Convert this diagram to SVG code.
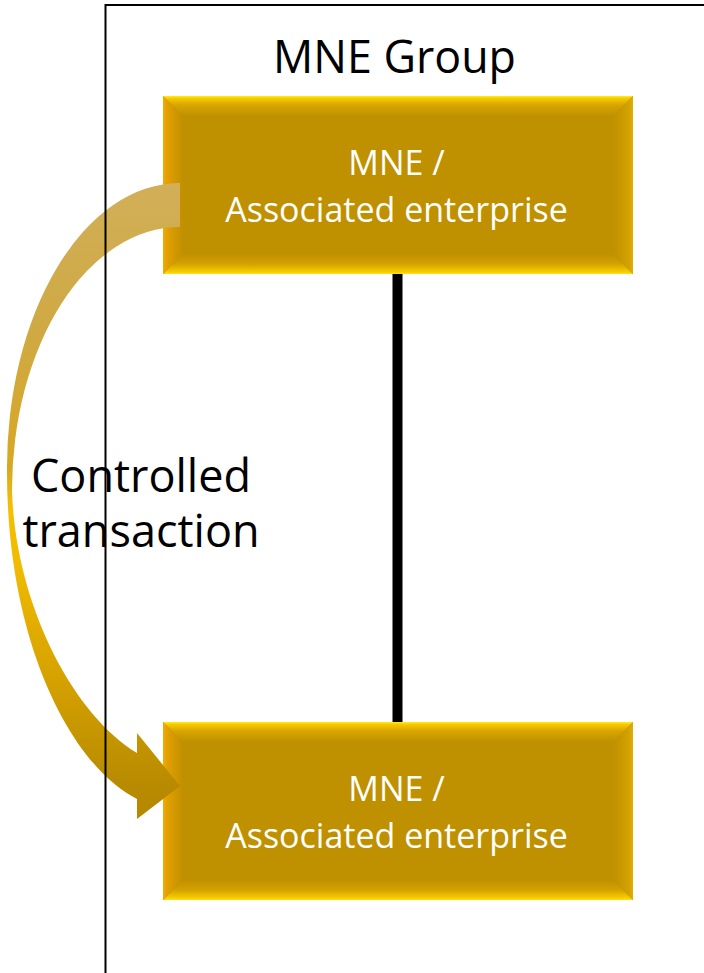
<svg xmlns="http://www.w3.org/2000/svg" width="704" height="973" viewBox="0 0 704 973">
  <defs>
    <style>
      .title { font-family: "Open Sans", "Noto Sans", "Liberation Sans", sans-serif; font-size: 46px; fill: #000; }
      .label { font-family: "Open Sans", "Noto Sans", "Liberation Sans", sans-serif; font-size: 45px; fill: #000; }
      .box-text { font-family: "Open Sans", "Noto Sans", "Liberation Sans", sans-serif; font-size: 34px; fill: #fff; text-anchor: middle; }
      .face { fill: #BF9000; }
      .frame { fill: none; stroke: #000; stroke-width: 2; }
      .link { stroke: #000; stroke-width: 10; }
    </style>
    <!-- bevel shading for the enterprise boxes -->
    <linearGradient id="bevelTop" x1="0" y1="0" x2="0" y2="1">
      <stop offset="0" stop-color="#FFEF10"/>
      <stop offset="0.12" stop-color="#F6CA00"/>
      <stop offset="0.45" stop-color="#D8A500"/>
      <stop offset="1" stop-color="#C09100"/>
    </linearGradient>
    <linearGradient id="bevelBottom" x1="0" y1="0" x2="0" y2="1">
      <stop offset="0" stop-color="#C09000"/>
      <stop offset="0.5" stop-color="#D4A200"/>
      <stop offset="0.88" stop-color="#F5CA00"/>
      <stop offset="1" stop-color="#FFE210"/>
    </linearGradient>
    <linearGradient id="bevelLeft" x1="0" y1="0" x2="1" y2="0">
      <stop offset="0" stop-color="#F2AC00"/>
      <stop offset="0.2" stop-color="#E3A000"/>
      <stop offset="1" stop-color="#C09000"/>
    </linearGradient>
    <linearGradient id="bevelRight" x1="0" y1="0" x2="1" y2="0">
      <stop offset="0" stop-color="#C09000"/>
      <stop offset="0.8" stop-color="#D3A200"/>
      <stop offset="1" stop-color="#E2B000"/>
    </linearGradient>
    <!-- shading of the curved transaction arrow -->
    <linearGradient id="arrowFill" gradientUnits="userSpaceOnUse" x1="0" y1="183" x2="0" y2="819">
      <stop offset="0" stop-color="#D2AF58"/>
      <stop offset="0.23" stop-color="#CFA944"/>
      <stop offset="0.45" stop-color="#D8A822"/>
      <stop offset="0.51" stop-color="#F4C000"/>
      <stop offset="0.6" stop-color="#F0BB00"/>
      <stop offset="0.74" stop-color="#DCA700"/>
      <stop offset="0.95" stop-color="#B78A00"/>
      <stop offset="1" stop-color="#B58800"/>
    </linearGradient>
    <g id="bevelBox">
      <rect class="face" x="0" y="0" width="470" height="178"/>
      <polygon points="0,0 470,0 450,20 20,20" fill="url(#bevelTop)"/>
      <polygon points="0,178 470,178 450,158 20,158" fill="url(#bevelBottom)"/>
      <polygon points="0,0 20,20 20,158 0,178" fill="url(#bevelLeft)"/>
      <polygon points="470,0 450,20 450,158 470,178" fill="url(#bevelRight)"/>
    </g>
  </defs>

  <rect width="704" height="973" fill="#fff"/>

  <g id="enterprise-top" transform="translate(163,96)">
    <use href="#bevelBox"/>
    <text class="box-text" x="233.5" y="78.5">MNE /</text>
    <text class="box-text" x="233.5" y="125.8">Associated enterprise</text>
  </g>

  <g id="enterprise-bottom" transform="translate(163,722)">
    <use href="#bevelBox"/>
    <text class="box-text" x="233.5" y="78.5">MNE /</text>
    <text class="box-text" x="233.5" y="125.8">Associated enterprise</text>
  </g>

  <!-- connectors -->
  <g id="connectors">
    <line class="link" x1="397.5" y1="274" x2="397.5" y2="722"/>
    <path id="controlled-transaction-arrow" fill="url(#arrowFill)"
          d="M 180,183 A 173 285 0 0 0 7,472 C 7,640 70,765 137,799 L 137,819 L 180,786 L 137,733 L 137,753 C 70,712 15,600 12,490 A 168 263 0 0 1 180,227 Z"/>
  </g>

  <!-- group boundary -->
  <g id="mne-group">
    <path class="frame" d="M 105.5,973 V 5 H 704"/>
    <text class="title" x="394.5" y="73" text-anchor="middle" textLength="243" lengthAdjust="spacingAndGlyphs">MNE Group</text>
  </g>

  <g id="transaction-label">
    <text class="label" x="141" y="491.7" text-anchor="middle">Controlled</text>
    <text class="label" x="141" y="546.7" text-anchor="middle">transaction</text>
  </g>
</svg>
